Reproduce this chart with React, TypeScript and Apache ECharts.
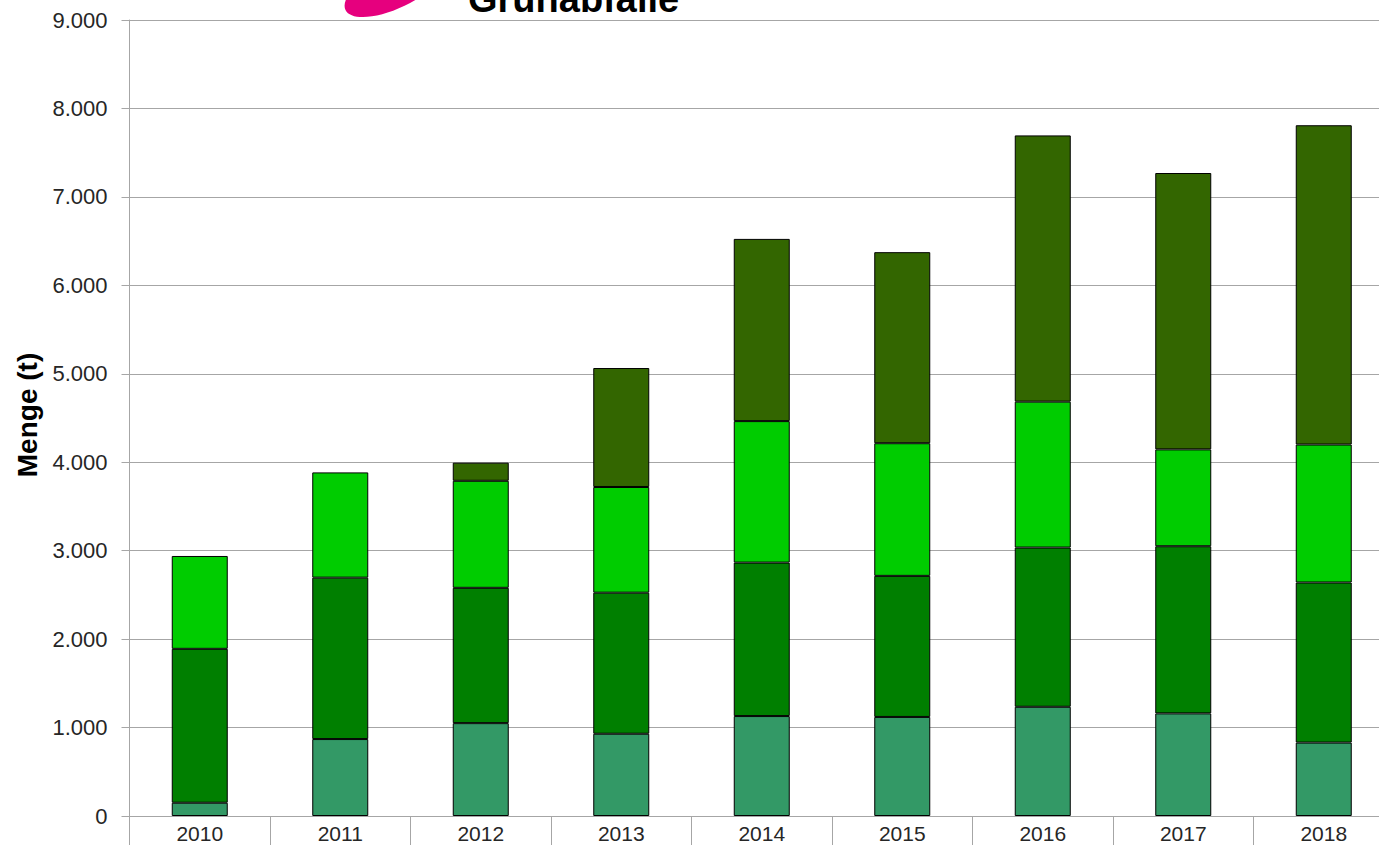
import React, { useEffect, useRef } from "react";
import * as echarts from "echarts";

const categories = ["2010", "2011", "2012", "2013", "2014", "2015", "2016", "2017", "2018"];
const serie1 = [150, 870, 1050, 930, 1130, 1120, 1235, 1160, 830];
const serie2 = [1740, 1825, 1530, 1595, 1735, 1595, 1800, 1890, 1810];
const serie3 = [1050, 1190, 1210, 1195, 1600, 1500, 1650, 1095, 1560];
const serie4 = [null, null, 205, 1345, 2060, 2160, 3010, 3125, 3610];
const seriesNames = ["Fraktion 1", "Fraktion 2", "Fraktion 3", "Fraktion 4"];
const seriesColors = ["#339966", "#007F00", "#00CC00", "#336600"];
const yTicks = { min: 0, max: 9000, interval: 1000 };
const titleText = "Grünabfälle";
const yAxisTitle = "Menge (t)";

const FONT = "'Liberation Sans', Arial, sans-serif";

export default function App() {
  const ref = useRef<HTMLDivElement>(null);
  useEffect(() => {
    const chart = echarts.init(ref.current!, null, { renderer: "svg" });
    const data = [serie1, serie2, serie3, serie4];
    chart.setOption({
      animation: false,
      backgroundColor: "#ffffff",
      grid: { left: 129.5, top: 20, width: 1264.5, bottom: 29, containLabel: false },
      xAxis: {
        type: "category",
        data: categories,
        boundaryGap: true,
        axisLine: { show: true, lineStyle: { color: "#A6A6A6", width: 1 } },
        axisTick: { show: true, alignWithLabel: false, length: 40, lineStyle: { color: "#A6A6A6", width: 1 } },
        axisLabel: { color: "#262626", fontFamily: FONT, fontSize: 21, margin: 7 },
        splitLine: { show: false },
      },
      yAxis: {
        type: "value",
        min: yTicks.min,
        max: yTicks.max,
        interval: yTicks.interval,
        axisLine: { show: true, lineStyle: { color: "#A6A6A6", width: 1 } },
        axisTick: { show: true, inside: false, length: 8, lineStyle: { color: "#A6A6A6", width: 1 } },
        axisLabel: {
          color: "#262626",
          fontFamily: FONT,
          fontSize: 22,
          margin: 22,
          formatter: (v: number) => (v === 0 ? "0" : v.toLocaleString("de-DE")),
        },
        splitLine: { show: true, lineStyle: { color: "#A6A6A6", width: 1 } },
      },
      series: data.map((d, i) => ({
        name: seriesNames[i],
        type: "bar",
        stack: "total",
        data: d,
        barWidth: 56,
        itemStyle: { color: seriesColors[i], borderColor: "#000000", borderWidth: 1 },
      })),
      graphic: [
        {
          type: "ellipse",
          x: 395,
          y: -14,
          rotation: 0.45,
          shape: { cx: 0, cy: 0, rx: 55, ry: 22 },
          style: { fill: "#E6007E" },
        },
        {
          type: "text",
          x: 468,
          y: -1,
          style: {
            text: titleText,
            fill: "#000000",
            font: `bold 38px ${FONT}`,
            align: "left",
            verticalAlign: "middle",
          },
        },
        {
          type: "text",
          x: 27,
          y: 415,
          rotation: Math.PI / 2,
          style: {
            text: yAxisTitle,
            fill: "#000000",
            font: `bold 28px ${FONT}`,
            align: "center",
            verticalAlign: "middle",
          },
        },
      ],
    });
    return () => chart.dispose();
  }, []);
  return (
    <div
      style={{
        position: "fixed",
        left: 0,
        top: 0,
        width: 1379,
        height: 845,
        overflow: "hidden",
        background: "#fff",
      }}
    >
      <div ref={ref} style={{ width: 1420, height: 845 }} />
    </div>
  );
}
